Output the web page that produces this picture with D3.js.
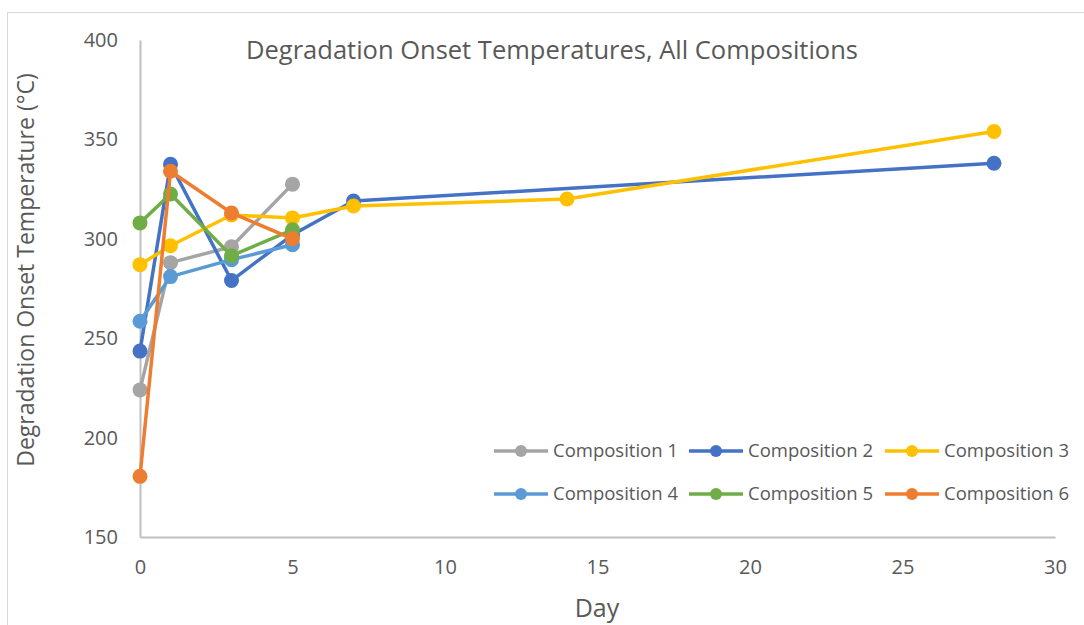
<!DOCTYPE html>
<html>
<head>
<meta charset="utf-8">
<script src="https://cdn.jsdelivr.net/npm/d3@7"></script>
<style>
  body { margin: 0; background: #fff; }
  svg { display: block; font-family: "Open Sans", sans-serif; }
</style>
</head>
<body>
<svg id="chart" width="1084" height="625"></svg>
<script>
// data
const seriesNames = ["Composition 1", "Composition 2", "Composition 3", "Composition 4", "Composition 5", "Composition 6"];
const seriesColors = ["#A5A5A5", "#4472C4", "#FFC000", "#5B9BD5", "#70AD47", "#ED7D31"];
const comp1Days = [0, 1, 3, 5];
const comp1Temps = [224, 288, 296, 327.5];
const comp2Days = [0, 1, 3, 5, 7, 28];
const comp2Temps = [243.5, 337.5, 279, 302, 319, 338];
const comp3Days = [0, 1, 3, 5, 7, 14, 28];
const comp3Temps = [287, 296.5, 312, 310.5, 316.5, 320, 354];
const comp4Days = [0, 1, 3, 5];
const comp4Temps = [258.5, 281, 289.5, 297];
const comp5Days = [0, 1, 3, 5];
const comp5Temps = [308, 322.5, 291.5, 304.5];
const comp6Days = [0, 1, 3, 5];
const comp6Temps = [180.5, 334, 313, 300];
const xTicks = [0, 5, 10, 15, 20, 25, 30];
const yTicks = [150, 200, 250, 300, 350, 400];

const allDays = [comp1Days, comp2Days, comp3Days, comp4Days, comp5Days, comp6Days];
const allTemps = [comp1Temps, comp2Temps, comp3Temps, comp4Temps, comp5Temps, comp6Temps];
const series = seriesNames.map((name, i) => ({
    name: name,
    color: seriesColors[i],
    points: allDays[i].map((d, j) => ({ day: d, temp: allTemps[i][j] }))
}));

const svg = d3.select("#chart");
const textColor = "#595959";
const axisColor = "#bfbfbf";

// chart frame
svg.append("rect")
    .attr("x", 7.5).attr("y", 12.5)
    .attr("width", 1090).attr("height", 640)
    .attr("fill", "none").attr("stroke", "#d9d9d9");

const x = d3.scaleLinear().domain([0, 30]).range([140, 1055]);
const y = d3.scaleLinear().domain([150, 400]).range([537, 40]);

// axes
const xAxis = svg.append("g")
    .attr("transform", `translate(0,${y(150)})`)
    .call(d3.axisBottom(x).tickValues(xTicks).tickSize(0).tickPadding(23));
const yAxis = svg.append("g")
    .attr("transform", `translate(${x(0)},0)`)
    .call(d3.axisLeft(y).tickValues(yTicks).tickSize(0).tickPadding(22));
[xAxis, yAxis].forEach(a => {
    a.select(".domain").attr("stroke", axisColor).attr("stroke-width", 2);
    a.selectAll("text")
        .attr("fill", textColor)
        .attr("font-size", 20)
        .attr("font-family", "Open Sans, sans-serif");
});

// lines and markers
const line = d3.line().x(d => x(d.day)).y(d => y(d.temp));
series.forEach(s => {
    const g = svg.append("g");
    g.append("path")
        .datum(s.points)
        .attr("d", line)
        .attr("fill", "none")
        .attr("stroke", s.color)
        .attr("stroke-width", 3.5)
        .attr("stroke-linejoin", "round");
    g.selectAll("circle")
        .data(s.points)
        .join("circle")
        .attr("cx", d => x(d.day))
        .attr("cy", d => y(d.temp))
        .attr("r", 7.5)
        .attr("fill", s.color);
});

// title and axis titles
svg.append("text")
    .attr("x", 552).attr("y", 59)
    .attr("text-anchor", "middle")
    .attr("fill", textColor)
    .attr("font-size", 25.5)
    .text("Degradation Onset Temperatures, All Compositions");

svg.append("text")
    .attr("x", 597).attr("y", 617)
    .attr("text-anchor", "middle")
    .attr("fill", textColor)
    .attr("font-size", 25)
    .text("Day");

svg.append("text")
    .attr("transform", "translate(34,270) rotate(-90)")
    .attr("text-anchor", "middle")
    .attr("fill", textColor)
    .attr("font-size", 23)
    .text("Degradation Onset Temperature (°C)");

// legend, 3 columns x 2 rows
const legendCols = [494, 689, 885];
const legendRows = [451, 494];
series.forEach((s, i) => {
    const lx = legendCols[i % 3];
    const ly = legendRows[Math.floor(i / 3)];
    const g = svg.append("g").attr("transform", `translate(${lx},${ly})`);
    g.append("line")
        .attr("x1", 0).attr("x2", 54)
        .attr("stroke", s.color).attr("stroke-width", 3.5);
    g.append("circle").attr("cx", 27).attr("r", 6).attr("fill", s.color);
    g.append("text")
        .attr("x", 59).attr("dy", "0.35em")
        .attr("fill", textColor)
        .attr("font-size", 18.5)
        .text(s.name);
});
</script>
</body>
</html>
